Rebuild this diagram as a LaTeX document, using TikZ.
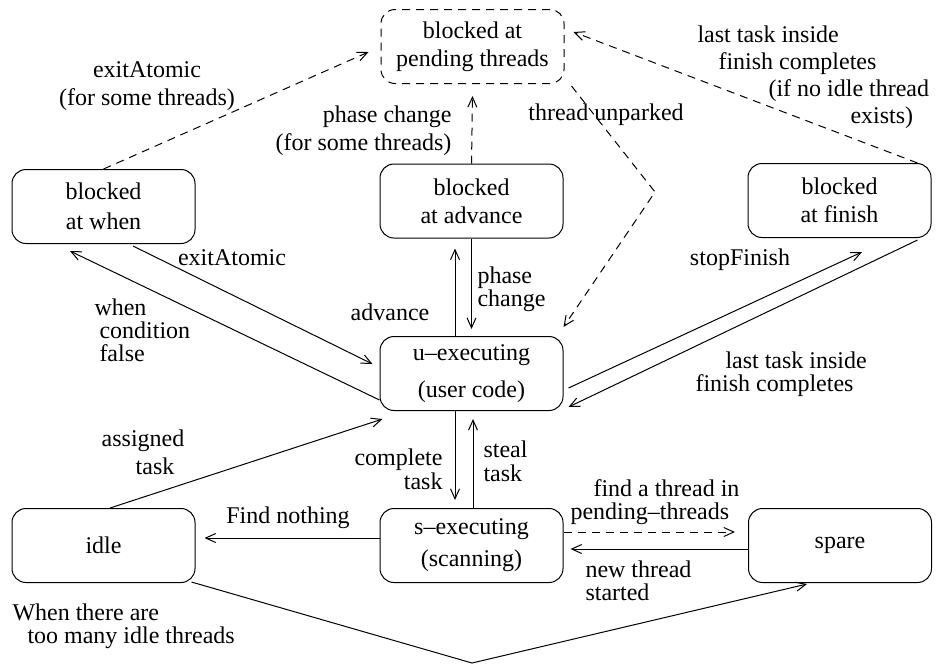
\documentclass[tikz,border=0pt]{standalone}
\usepackage{fontspec}
\setmainfont{Liberation Serif}
\usetikzlibrary{arrows.meta,calc}
\tikzstyle{state}=[draw, rounded corners=7pt, align=center, minimum width=91.5pt, minimum height=37pt, inner sep=0pt]
\tikzstyle{dsh}=[dash pattern=on 4pt off 3pt]
\tikzstyle{lbl}=[inner sep=0pt, font=\fontsize{12}{14}\selectfont]
\tikzstyle{lbltight}=[inner sep=0pt, font=\fontsize{12}{11.5}\selectfont]

\begin{document}
\begin{tikzpicture}[x=0.5pt,y=-0.5pt,line width=0.5pt,>={Straight Barb[length=5pt,width=4.5pt]},font=\fontsize{12}{14}\selectfont]
  \useasboundingbox (0,0) rectangle (936,666);
  % states
  \node [state,dsh] (pend) at (472.5,46.5) {blocked at\\pending threads};
  \node [state] (when) at (103.5,206.5) {blocked\\[1pt]at when};
  \node [state] (adv) at (471.5,201) {blocked\\at advance};
  \node [state] (fin) at (839.5,200.5) {blocked\\at finish};
  \node [state] (uexec) at (471.5,373.5) {u--executing\\[4.5pt](user code)};
  \node [state] (idle) at (103.5,545.5) {idle};
  \node [state] (sexec) at (471.5,545.5) {s--executing\\[2pt](scanning)};
  \node [state] (spare) at (840,545.5) {spare};
  \coordinate (bendA) at (655,192);
  \coordinate (bendB) at (472,663);
  % labels
  \node [lbl,align=center] (lExitTop) at (147,86) {exitAtomic\\(for some threads)};
  \node [lbl,align=right,anchor=east] (lPhaseTop) at (452,131) {phase change\\(for some threads)};
  \node [lbl] (lUnpark) at (606,115) {thread unparked};
  \node [lbl,align=left,anchor=west,font=\fontsize{12}{13.5}\selectfont] (lLastTop) at (697,77)
    {last task inside\\\hspace*{10.5pt}finish completes\\\hspace*{35.5pt}(if no idle thread\\\hspace*{76.5pt}exists)};
  \node [lbl] (lExitLow) at (232,258) {exitAtomic};
  \node [lbltight,align=left,anchor=west] (lWhen) at (94,330) {when\\\hspace*{2.5pt}condition\\\hspace*{2.5pt}false};
  \node [lbl] (lAdvance) at (390,312) {advance};
  \node [lbltight,align=left,anchor=west] (lPhaseLow) at (477,289) {phase\\change};
  \node [lbl] (lStop) at (740,260) {stopFinish};
  \node [lbltight,align=left,anchor=west] (lLastLow) at (695,374) {\hspace*{15pt}last task inside\\finish completes};
  \node [lbl,align=center] (lAssigned) at (143,452) {assigned\\\hspace*{12pt}task};
  \node [lbl,align=right,anchor=east,font=\fontsize{12}{12}\selectfont] (lComplete) at (443,469) {complete\\task};
  \node [lbl,align=left,anchor=west,font=\fontsize{12}{12}\selectfont] (lSteal) at (483,461) {steal\\task};
  \node [lbl] (lNothing) at (288,518) {Find nothing};
  \node [lbltight,align=left,anchor=west] (lFindThread) at (570,502) {\hspace*{11.5pt}find a thread in\\pending--threads};
  \node [lbltight,align=left,anchor=west] (lNewThread) at (585,581) {new thread\\started};
  \node [lbltight,align=left,anchor=west] (lTooMany) at (12,626.5) {When there are\\\hspace*{7.5pt}too many idle threads};
  % transitions
  \draw [->,dsh] (when.north) -- ($(pend.west)+(-12,5.5)$);
  \draw [->,dsh] (adv.north) -- ($(pend.south)+(0,12)$);
  \draw [->,dsh] ($(pend.south east)+(7,2)$) -- (bendA) -- ($(uexec.north east)+(0,-9)$);
  \draw [->,dsh] ($(fin.north east)+(-14,0)$) -- ($(pend.east)+(9,-14.5)$);
  \draw [->] ($(uexec.north)+(-16.5,0)$) -- ($(adv.south)+(-16.5,10)$);
  \draw [->] (adv.south) -- ($(uexec.north)+(0,-7)$);
  \draw [->] ($(when.south)+(29.5,2)$) -- ($(uexec.west)+(-7,-9.5)$);
  \draw [->] ($(uexec.west)+(0,26.5)$) -- ($(when.south)+(-33.5,7)$);
  \draw [->] ($(uexec.east)+(5,14.5)$) -- ($(fin.south)+(22.5,14)$);
  \draw [->] ($(fin.south east)+(-14,2)$) -- ($(uexec.east)+(5,33.5)$);
  \draw [->] ($(uexec.south)+(-16.5,0)$) -- ($(sexec.north)+(-16.5,-8)$);
  \draw [->] ($(sexec.north)+(1.5,0)$) -- ($(uexec.south)+(1.5,8)$);
  \draw [->] ($(idle.north)+(6.5,0)$) -- ($(uexec.south west)+(3,8)$);
  \draw [->] ($(sexec.west)+(0,-7.5)$) -- ($(idle.east)+(9,-7.5)$);
  \draw [->,dsh] ($(sexec.east)+(0,-13.5)$) -- ($(spare.west)+(-13,-13.5)$);
  \draw [->] ($(spare.west)+(0,3.5)$) -- ($(sexec.east)+(7,3.5)$);
  \draw [->] ($(idle.south east)+(-4,-1)$) -- (bendB) -- ($(spare.south)+(-33,1)$);
\end{tikzpicture}
\end{document}
